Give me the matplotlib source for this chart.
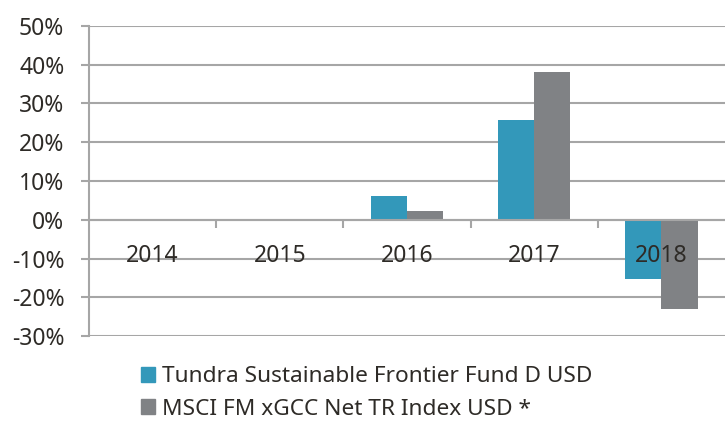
import matplotlib
matplotlib.use("Agg")
import matplotlib.pyplot as plt
import numpy as np
from matplotlib.patches import Patch

years = ["2014", "2015", "2016", "2017", "2018"]
fund = [0.0, 0.0, 6.2, 25.8, -15.3]
index = [0.0, 0.0, 2.4, 38.1, -23.0]
series_names = ["Tundra Sustainable Frontier Fund D USD",
                "MSCI FM xGCC Net TR Index USD *"]

teal = "#3398BA"
grey = "#808285"
grid_c = "#A6A6A6"
txt_c = "#2E2B27"

plt.rcParams["font.family"] = ["Noto Sans", "DejaVu Sans"]

fig = plt.figure(figsize=(7.25, 4.25), dpi=100)
ax = fig.add_axes([0.1228, 0.209, 0.877, 0.730])

x = np.arange(len(years))
w = 0.285
ax.bar(x - w / 2, fund, w, color=teal, zorder=3)
ax.bar(x + w / 2, index, w, color=grey, zorder=3)

ax.set_xlim(-0.5, len(years) - 0.5)
ax.set_ylim(-30, 50)
ax.set_yticks(np.arange(-30, 51, 10))
ax.set_yticklabels([f"{v}%" for v in range(-30, 51, 10)], color=txt_c, fontsize=16.5)
ax.yaxis.grid(True, color=grid_c, linewidth=1.5, zorder=0)
ax.tick_params(axis="y", length=5.8, width=1.5, color=grid_c, pad=12)

for s in ["top", "right"]:
    ax.spines[s].set_visible(False)
ax.spines["left"].set_color(grid_c)
ax.spines["left"].set_linewidth(1.5)
ax.spines["bottom"].set_position(("data", 0))
ax.spines["bottom"].set_color(grid_c)
ax.spines["bottom"].set_linewidth(1.5)
ax.spines["bottom"].set_zorder(4)

ax.set_xticks(np.arange(0.5, len(years) - 0.5, 1))
ax.set_xticklabels([])
ax.tick_params(axis="x", length=5.8, width=1.5, color=grid_c, direction="out")

for i, yr in enumerate(years):
    ax.text(i, -9.2, yr, ha="center", va="center", fontsize=16.5, color=txt_c, zorder=5)

handles = [Patch(color=teal), Patch(color=grey)]
fig.legend(handles, series_names, loc="upper left", bbox_to_anchor=(0.195, 0.138),
           frameon=False, fontsize=16.3, labelcolor=txt_c, handlelength=0.62,
           handleheight=0.62, handletextpad=0.3, labelspacing=0.5,
           borderaxespad=0, borderpad=0)

fig.savefig("out.png", dpi=100)
